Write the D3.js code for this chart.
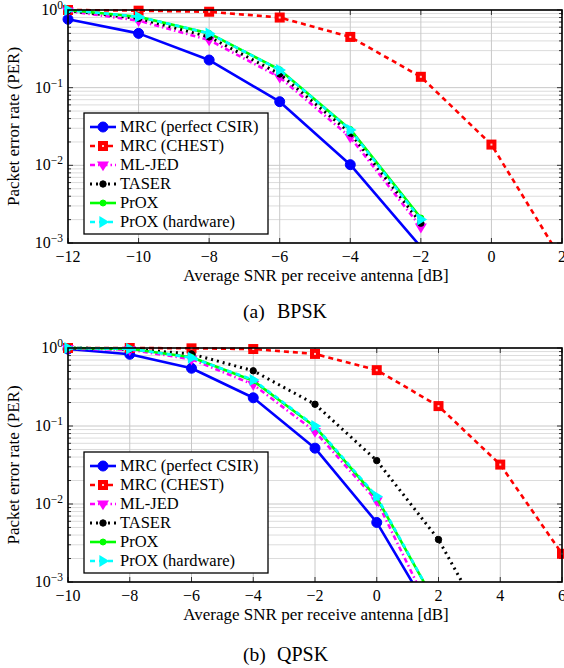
<!DOCTYPE html>
<html><head><meta charset="utf-8">
<script src="https://cdn.jsdelivr.net/npm/d3@7"></script>
<style>body{margin:0;background:#fff}svg{display:block}</style>
</head><body>
<svg id="c" width="564" height="668"></svg>
<script>
// ---------- data ----------
const seriesNames = ["MRC (perfect CSIR)", "MRC (CHEST)", "ML-JED", "TASER", "PrOX", "PrOX (hardware)"];

const bpskSNR = [-12, -10, -8, -6, -4, -2, 0, 2];
const bpskMRC   = [0.76, 0.50, 0.227, 0.066, 0.0102, 0.00089, null, null];
const bpskCHEST = [1.0, 0.98, 0.95, 0.80, 0.45, 0.138, 0.0185, 0.0006];
const bpskMLJED = [0.97, 0.73, 0.41, 0.136, 0.023, 0.0016, null, null];
const bpskTASER = [0.98, 0.78, 0.45, 0.15, 0.026, 0.0018, null, null];
const bpskPROX  = [1.0, 0.82, 0.50, 0.17, 0.029, 0.0021, null, null];
const bpskPROXH = [1.0, 0.82, 0.50, 0.169, 0.0285, 0.0020, null, null];

const qpskSNR = [-10, -8, -6, -4, -2, 0, 2, 4, 6];
const qpskMRC   = [0.97, 0.83, 0.55, 0.23, 0.052, 0.0058, 0.00027, null, null];
const qpskCHEST = [1.0, 1.0, 0.99, 0.97, 0.84, 0.52, 0.18, 0.032, 0.0023];
const qpskMLJED = [0.98, 0.95, 0.72, 0.34, 0.085, 0.011, 0.00026, null, null];
const qpskTASER = [1.0, 0.97, 0.84, 0.51, 0.19, 0.036, 0.0035, 0.00013, null];
const qpskPROX  = [1.0, 0.98, 0.76, 0.38, 0.098, 0.012, 0.00046, null, null];
const qpskPROXH = [1.0, 0.98, 0.75, 0.39, 0.10, 0.0125, 0.00046, null, null];

const bpskXTicks = [-12, -10, -8, -6, -4, -2, 0, 2];
const qpskXTicks = [-10, -8, -6, -4, -2, 0, 2, 4, 6];
const yDecades = [1, 0.1, 0.01, 0.001];
const yTickExp = ["0", "−1", "−2", "−3"];
const xLabel = "Average SNR per receive antenna [dB]";
const yLabel = "Packet error rate (PER)";
const captionTags = ["(a)", "(b)"];
const captionNames = ["BPSK", "QPSK"];

// ---------- styles ----------
const styles = [
  {color: "#0000ff", dash: null, width: 2.6, marker: "circle", msize: 5},
  {color: "#ff0000", dash: "5,4", width: 2.6, marker: "square", msize: 5},
  {color: "#ff00ff", dash: "5,3,1.5,3", width: 2.6, marker: "tridown", msize: 6},
  {color: "#000000", dash: "2,4", width: 3, marker: "dot", msize: 3.2},
  {color: "#00ff00", dash: null, width: 2.6, marker: "dot", msize: 3},
  {color: "#00ffff", dash: "5,4", width: 2.6, marker: "triright", msize: 6}
];

const FONT = "Liberation Serif";
const svg = d3.select("#c");

function drawMarker(g, type, x, y, s, color) {
  if (type === "circle" || type === "dot") {
    g.append("circle").attr("cx", x).attr("cy", y).attr("r", s).attr("fill", color).attr("stroke", color);
  } else if (type === "square") {
    g.append("rect").attr("x", x - s).attr("y", y - s).attr("width", 2*s).attr("height", 2*s).attr("fill", color);
    g.append("rect").attr("x", x - 1).attr("y", y - 1).attr("width", 2).attr("height", 2).attr("fill", "#fff").attr("opacity", 0.8);
  } else if (type === "tridown") {
    g.append("path").attr("d", `M${x-s},${y-s*0.6}L${x+s},${y-s*0.6}L${x},${y+s*1.05}Z`).attr("fill", color);
  } else if (type === "triright") {
    g.append("path").attr("d", `M${x-s*0.6},${y-s}L${x-s*0.6},${y+s}L${x+s*1.05},${y}Z`).attr("fill", color);
  }
}

function txt(g) { return g.append("text").attr("font-family", FONT).attr("fill", "#000"); }

function chart(opts) {
  const {left, right, top, bottom, snr, series, xTicks, k, captionY, legendTop, id} = opts;
  const x = d3.scaleLinear().domain([xTicks[0], xTicks[xTicks.length-1]]).range([left, right]);
  const y = d3.scaleLog().domain([1e-3, 1]).range([bottom, top]);
  const g = svg.append("g");

  const minors = [];
  [1e-3, 1e-2, 1e-1].forEach(d => { for (let m = 2; m <= 9; m++) minors.push(d*m); });
  g.selectAll(".mg").data(minors).enter().append("line")
    .attr("x1", left).attr("x2", right).attr("y1", d => y(d)).attr("y2", d => y(d))
    .attr("stroke", "#dcdcdc").attr("stroke-width", 1);
  g.selectAll(".gy").data(yDecades).enter().append("line")
    .attr("x1", left).attr("x2", right).attr("y1", d => y(d)).attr("y2", d => y(d))
    .attr("stroke", "#c8c8c8").attr("stroke-width", 1);
  g.selectAll(".gx").data(xTicks).enter().append("line")
    .attr("x1", d => x(d)).attr("x2", d => x(d)).attr("y1", top).attr("y2", bottom)
    .attr("stroke", "#c8c8c8").attr("stroke-width", 1);

  minors.forEach(d => {
    g.append("line").attr("x1", left).attr("x2", left + 3).attr("y1", y(d)).attr("y2", y(d)).attr("stroke", "#333");
    g.append("line").attr("x1", right - 3).attr("x2", right).attr("y1", y(d)).attr("y2", y(d)).attr("stroke", "#333");
  });
  yDecades.forEach(d => {
    g.append("line").attr("x1", left).attr("x2", left + 5).attr("y1", y(d)).attr("y2", y(d)).attr("stroke", "#333");
    g.append("line").attr("x1", right - 5).attr("x2", right).attr("y1", y(d)).attr("y2", y(d)).attr("stroke", "#333");
  });
  xTicks.forEach(d => {
    g.append("line").attr("x1", x(d)).attr("x2", x(d)).attr("y1", bottom).attr("y2", bottom - 5).attr("stroke", "#333");
    g.append("line").attr("x1", x(d)).attr("x2", x(d)).attr("y1", top).attr("y2", top + 5).attr("stroke", "#333");
  });

  svg.append("clipPath").attr("id", id).append("rect")
    .attr("x", left).attr("y", top - 4).attr("width", right - left).attr("height", bottom - top + 4);

  const line = d3.line().defined(d => d[1] != null).x(d => x(d[0])).y(d => y(d[1]));
  series.forEach((vals, i) => {
    const st = styles[i];
    const pts = snr.map((s, j) => [s, vals[j]]);
    g.append("path").attr("d", line(pts)).attr("fill", "none")
      .attr("stroke", st.color).attr("stroke-width", st.width)
      .attr("stroke-dasharray", st.dash).attr("stroke-linejoin", "round")
      .attr("clip-path", `url(#${id})`);
    const mg = g.append("g");
    pts.filter(p => p[1] != null && p[1] >= 1e-3).forEach(p => drawMarker(mg, st.marker, x(p[0]), y(p[1]), st.msize, st.color));
  });

  g.append("rect").attr("x", left).attr("y", top).attr("width", right - left).attr("height", bottom - top)
    .attr("fill", "none").attr("stroke", "#000").attr("stroke-width", 1.6);

  yDecades.forEach((d, j) => {
    const t = txt(g).attr("x", left - 5).attr("y", y(d) + 5).attr("text-anchor", "end").attr("font-size", 16);
    t.append("tspan").text("10");
    t.append("tspan").attr("dy", -6).attr("font-size", 11.5).text(yTickExp[j]);
  });
  xTicks.forEach(d => {
    txt(g).attr("x", x(d)).attr("y", bottom + 19).attr("text-anchor", "middle")
      .attr("font-size", 16).text(d < 0 ? "−" + Math.abs(d) : String(d));
  });
  txt(g).attr("x", 316).attr("y", bottom + 38).attr("text-anchor", "middle")
    .attr("font-size", 17).text(xLabel);
  txt(g).attr("transform", `translate(19,${(top + bottom) / 2}) rotate(-90)`).attr("text-anchor", "middle")
    .attr("font-size", 17).text(yLabel);
  txt(g).attr("x", 243).attr("y", captionY).attr("font-size", 19.5).text(captionTags[k]);
  txt(g).attr("x", 277).attr("y", captionY).attr("font-size", 20).text(captionNames[k]);

  const lx = 84, lw = 184, rowH = 19;
  const lg = g.append("g");
  lg.append("rect").attr("x", lx).attr("y", legendTop).attr("width", lw).attr("height", rowH * 6 + 7)
    .attr("fill", "#fff").attr("stroke", "#000").attr("stroke-width", 1.3);
  seriesNames.forEach((name, i) => {
    const st = styles[i];
    const cy = legendTop + 14 + i * rowH;
    lg.append("line").attr("x1", lx + 6).attr("x2", lx + 32).attr("y1", cy).attr("y2", cy)
      .attr("stroke", st.color).attr("stroke-width", st.width).attr("stroke-dasharray", st.dash);
    drawMarker(lg, st.marker, lx + 19, cy, st.msize, st.color);
    txt(lg).attr("x", lx + 36).attr("y", cy + 5).attr("font-size", 16.5).text(name);
  });
}

chart({left: 68, right: 562, top: 10, bottom: 243, snr: bpskSNR,
  series: [bpskMRC, bpskCHEST, bpskMLJED, bpskTASER, bpskPROX, bpskPROXH],
  xTicks: bpskXTicks, k: 0, captionY: 318, legendTop: 113, id: "clipA"});
chart({left: 68, right: 562, top: 348, bottom: 582, snr: qpskSNR,
  series: [qpskMRC, qpskCHEST, qpskMLJED, qpskTASER, qpskPROX, qpskPROXH],
  xTicks: qpskXTicks, k: 1, captionY: 661, legendTop: 452, id: "clipB"});
</script>
</body></html>
